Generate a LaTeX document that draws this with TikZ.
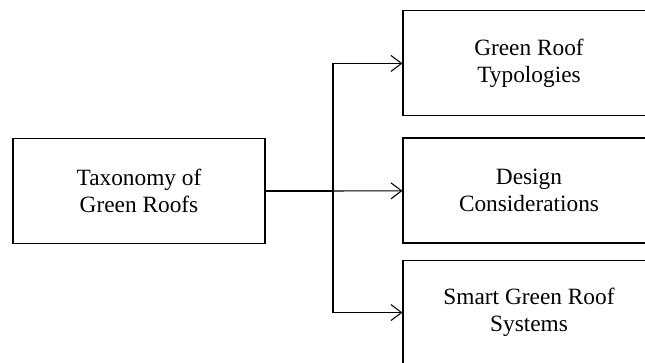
\documentclass[tikz,border=0pt]{standalone}
\usepackage{fontspec}
\setmainfont{Liberation Serif}
\usetikzlibrary{positioning,arrows.meta}

\begin{document}
\begin{tikzpicture}[x=0.75pt,y=0.75pt,
  box/.style = {draw, line width=0.8pt, minimum width=189pt, minimum height=78.75pt,
    align=center, inner sep=0pt, font=\fontsize{17.5}{20}\selectfont},
  link/.style = {line width=0.8pt, -{Straight Barb[length=8pt,width=12pt,line width=0.8pt]}}]
\clip (0,0) rectangle (645,363);
\node[box] (tax) at (139,172) {Taxonomy of\\Green Roofs};
\node[box] (dc) at (529,172.5) {Design\\Considerations};
\node[box] (typ) [above=15.75pt of dc] {Green Roof\\Typologies};
\node[box] (sys) [below=12pt of dc] {Smart Green Roof\\Systems};
\coordinate (split) at (333,172);
\draw[line width=1.3pt] (tax) -- (split);
\draw[link] (split) |- (typ);
\draw[link] (split) -- (dc);
\draw[link] (split) |- (sys);
\end{tikzpicture}
\end{document}
